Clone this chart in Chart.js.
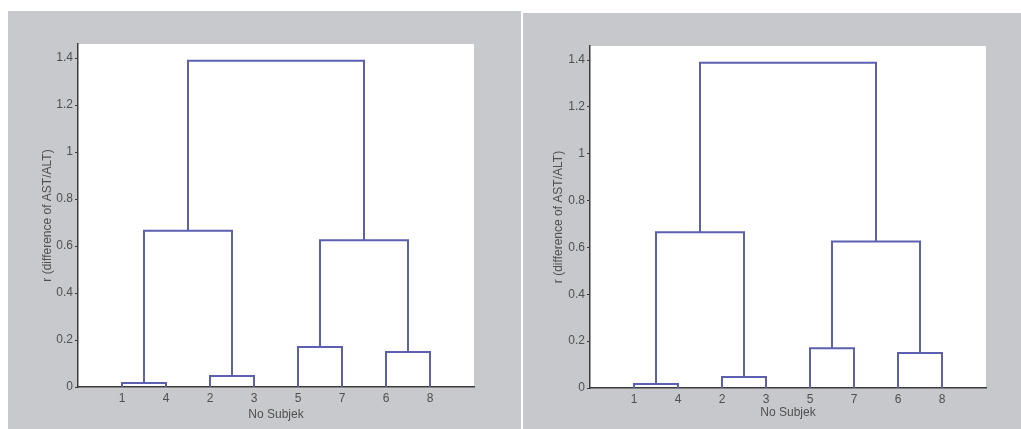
<!DOCTYPE html>
<html><head><meta charset="utf-8">
<script src="https://cdn.jsdelivr.net/npm/chart.js@4"></script>
<style>
body{margin:0;background:#fff;width:1021px;height:429px;position:relative;overflow:hidden}
.panel{position:absolute;background:#c8c9cd}
</style></head><body>
<div class="panel" style="left:8px;top:11px;width:513px;height:418px"><canvas id="c1"></canvas></div>
<div class="panel" style="left:523px;top:13px;width:498px;height:416px;background:#c6c8cc"><canvas id="c2"></canvas></div>
<script>
// Data: leaf order along the x axis, and linkage (cluster ids: leaves 1..8, merged clusters 9..15)
const leafOrder  = [1, 4, 2, 3, 5, 7, 6, 8];
const linkLeft   = [1, 2, 6, 5, 9, 12, 13];
const linkRight  = [4, 3, 8, 7, 10, 11, 14];
const linkHeight = [0.017, 0.047, 0.149, 0.17, 0.665, 0.625, 1.389];
const yTicks     = [0, 0.2, 0.4, 0.6, 0.8, 1, 1.2, 1.4];
const xTitle = 'No Subjek';
const yTitle = 'r (difference of AST/ALT)';

function buildDatasets(color) {
  const pos = {}, hgt = {};
  leafOrder.forEach((leaf, i) => { pos[leaf] = i + 1; hgt[leaf] = 0; });
  const sets = [];
  linkHeight.forEach((h, i) => {
    const a = linkLeft[i], b = linkRight[i], id = leafOrder.length + 1 + i;
    pos[id] = (pos[a] + pos[b]) / 2; hgt[id] = h;
    sets.push({
      data: [{x: pos[a], y: hgt[a]}, {x: pos[a], y: h}, {x: pos[b], y: h}, {x: pos[b], y: hgt[b]}],
      showLine: true, borderColor: color, borderWidth: 2, pointRadius: 0, fill: false, tension: 0
    });
  });
  return sets;
}

const whiteArea = {
  id: 'whiteArea',
  beforeDraw(chart) {
    const {ctx, chartArea: a} = chart;
    ctx.save(); ctx.fillStyle = '#ffffff';
    ctx.fillRect(a.left, a.top, a.right - a.left, a.bottom - a.top);
    ctx.restore();
  }
};

function makeChart(id, p) {
  const font = {family: '"Liberation Sans", Arial, sans-serif', size: 12};
  const txt = '#505050', axis = '#3c3c3c';
  new Chart(document.getElementById(id), {
    type: 'scatter',
    data: {datasets: buildDatasets('#5c60b0')},
    plugins: [whiteArea],
    options: {
      responsive: true, maintainAspectRatio: false, animation: false,
      layout: {padding: {left: 0, right: p.right, top: p.top, bottom: 0}},
      plugins: {legend: {display: false}, tooltip: {enabled: false}},
      scales: {
        x: {
          type: 'linear', min: 0, max: leafOrder.length + 1,
          afterBuildTicks: s => { s.ticks = leafOrder.map((l, i) => ({value: i + 1})); },
          afterFit: s => { s.height = p.xh; },
          ticks: {callback: (v, i) => String(leafOrder[i]), autoSkip: false, maxRotation: 0, padding: 4, color: txt, font},
          grid: {drawOnChartArea: false, drawTicks: false},
          border: {color: axis, width: 1.5},
          title: {display: true, text: xTitle, color: txt, font, padding: {top: 0, bottom: p.bp}}
        },
        y: {
          min: 0, max: 1.46,
          afterBuildTicks: s => { s.ticks = yTicks.map(v => ({value: v})); },
          afterFit: s => { s.width = p.yw; },
          ticks: {callback: v => String(v), color: txt, font, padding: 2},
          grid: {drawOnChartArea: false, drawTicks: true, tickLength: 3, color: axis},
          border: {color: axis, width: 1.5},
          title: {display: true, text: yTitle, color: txt, font, padding: {top: p.tp, bottom: 0}}
        }
      }
    }
  });
}

makeChart('c1', {right: 47, top: 33, xh: 42, yw: 70, tp: 32, bp: 7});
makeChart('c2', {right: 35, top: 33, xh: 41, yw: 67, tp: 28, bp: 9});
</script>
</body></html>
